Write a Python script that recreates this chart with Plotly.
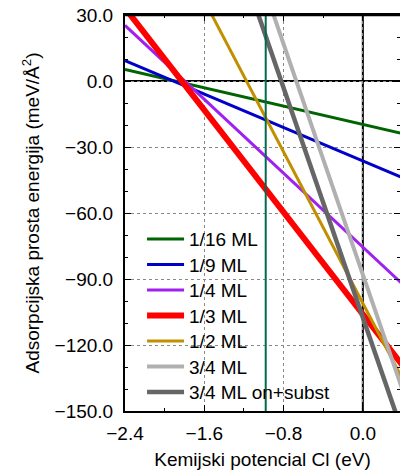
import plotly.graph_objects as go

# Data
x_ends = [-2.4, 0.4]
series_names = ["1/16 ML", "1/9 ML", "1/4 ML", "1/3 ML", "1/2 ML", "3/4 ML", "3/4 ML on+subst"]
y_1_16 = [5.3, -23.9]
y_1_9 = [9.3, -43.9]
y_1_4 = [25.3, -92.3]
y_1_3 = [33.2, -129.2]
y_1_2 = [105.4, -135.4]
y_3_4 = [226.4, -140.4]
y_3_4_sub = [205.7, -159.7]
mu_marker = -0.98

x_ticks = [-2.4, -1.6, -0.8, 0.0]
x_tick_labels = ["\u22122.4", "\u22121.6", "\u22120.8", "0.0"]
y_ticks = [30, 0, -30, -60, -90, -120, -150]
y_tick_labels = ["30.0", "0.0", "\u221230.0", "\u221260.0", "\u221290.0", "\u2212120.0", "\u2212150.0"]

colors = ["#006400", "#0000c8", "#a020f0", "#ff0000", "#c09000", "#b0b0b0", "#666666"]
widths = [3, 3, 3, 6, 3, 4, 4.5]
all_y = [y_1_16, y_1_9, y_1_4, y_1_3, y_1_2, y_3_4, y_3_4_sub]

W, H = 400, 470
ML, MR, MT, MB = 125, 0, 15, 59
plot_h = H - MT - MB
legend_first_px = 239.5   # centre of first legend entry (px from top)
legend_step_px = 25.5
legend_offset_px = 19.3

font = dict(family="Liberation Sans, Arial, sans-serif", size=19, color="black")

fig = go.Figure()
legend_layouts = {}
for i, (name, ys, c, w) in enumerate(zip(series_names, all_y, colors, widths)):
    key = "legend" if i == 0 else f"legend{i+1}"
    fig.add_trace(go.Scatter(x=x_ends, y=ys, mode="lines", name=name,
                             line=dict(color=c, width=w), legend=key))
    top_px = legend_first_px + legend_step_px * i - legend_offset_px
    legend_layouts[key] = dict(x=0.062, y=(H - MB - top_px) / plot_h,
                               xanchor="left", yanchor="top",
                               bgcolor="rgba(0,0,0,0)", font=font, itemwidth=37)

# reference lines
fig.add_shape(type="line", xref="x", yref="paper", x0=0, x1=0, y0=0, y1=1,
              line=dict(color="black", width=2), layer="below")
fig.add_shape(type="line", xref="paper", yref="y", x0=0, x1=1, y0=0, y1=0,
              line=dict(color="black", width=2), layer="below")
fig.add_shape(type="line", xref="x", yref="paper", x0=mu_marker, x1=mu_marker, y0=0, y1=1,
              line=dict(color="#006a4e", width=2), layer="above")
# plot frame (top edge drawn explicitly)
fig.add_shape(type="line", xref="paper", yref="paper", x0=0, x1=1, y0=1, y1=1,
              line=dict(color="black", width=2.5), layer="above")

fig.update_layout(
    width=W, height=H,
    margin=dict(l=ML, r=MR, t=MT, b=MB, autoexpand=False),
    paper_bgcolor="white", plot_bgcolor="white",
    font=font,
    showlegend=True,
    **legend_layouts,
)
fig.update_xaxes(
    range=[-2.4, 0.375], tickmode="array", tickvals=x_ticks, ticktext=x_tick_labels,
    ticks="inside", ticklen=6, tickwidth=1, tickcolor="black",
    showline=True, linecolor="black", linewidth=2, mirror="allticks",
    showgrid=True, gridcolor="#888888", griddash="dot", gridwidth=1,
    zeroline=False, ticklabelstandoff=4, automargin=False, ticklabeloverflow="allow",
    minor=dict(tickmode="linear", tick0=-2.4, dtick=0.4, ticks="inside", ticklen=3,
               tickcolor="black", showgrid=False),
    title=dict(text="Kemijski potencial Cl (eV)", font=font, standoff=10),
)
fig.update_yaxes(
    range=[-150, 30], tickmode="array", tickvals=y_ticks, ticktext=y_tick_labels,
    ticks="inside", ticklen=6, tickwidth=1, tickcolor="black",
    showline=True, linecolor="black", linewidth=2, mirror="allticks",
    showgrid=True, gridcolor="#888888", griddash="dot", gridwidth=1,
    zeroline=False, ticklabelstandoff=6, automargin=False, ticklabeloverflow="allow",
    minor=dict(tickmode="linear", tick0=30, dtick=10, ticks="inside", ticklen=3,
               tickcolor="black", showgrid=False),
    title=dict(text="Adsorpcijska prosta energija (meV/Å<sup>2</sup>)", font=font, standoff=10),
)
fig.write_html(
    "out.html",
    config={"displayModeBar": False},
    post_script="document.body.style.margin='0';document.documentElement.style.overflow='hidden';",
)
